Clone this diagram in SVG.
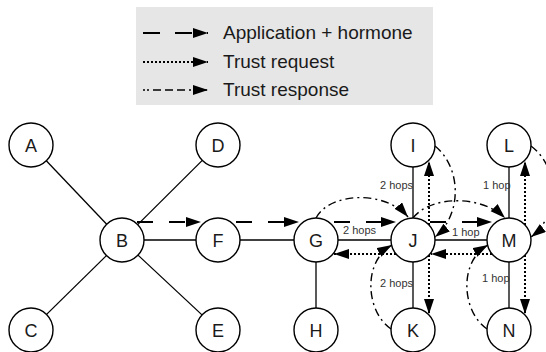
<svg xmlns="http://www.w3.org/2000/svg" width="546" height="352" viewBox="0 0 546 352">
<style>
.node circle{fill:#fff;stroke:#000;stroke-width:1.4}
.node text{font-family:"Liberation Sans",Arial,sans-serif;font-size:18px;fill:#1a1a1a;text-anchor:middle}
.edge{fill:none;stroke:#000;stroke-width:1.3}
.app{fill:none;stroke:#000;stroke-width:2;stroke-dasharray:16 16;marker-end:url(#ah)}
.req{fill:none;stroke:#000;stroke-width:2;stroke-dasharray:2 2;marker-end:url(#ah)}
.resp{fill:none;stroke:#000;stroke-width:1.4;stroke-dasharray:8 4 2 4;marker-end:url(#ah)}
.hop{font-family:"Liberation Sans",Arial,sans-serif;font-size:11px;fill:#333}
.leg{font-family:"Liberation Sans",Arial,sans-serif;font-size:19px;fill:#1a1a1a}
</style>
<defs>
<marker id="ah" markerUnits="userSpaceOnUse" markerWidth="16" markerHeight="11" refX="15" refY="5" orient="auto">
<path d="M0,0 L15,5 L0,10 z" fill="#000"/>
</marker>
</defs>
<g id="legend">
<rect x="136" y="7" width="297" height="98" fill="#e6e6e6"/>
<path class="app" d="M143,33 H208" style="stroke-dasharray:17 15"/>
<path class="req" d="M143,62 H208"/>
<path class="resp" d="M143,90 H208" style="stroke-dasharray:2 2 2 4 8 4 8 4 8 4"/>
<text class="leg" x="223" y="39">Application + hormone</text>
<text class="leg" x="223" y="68">Trust request</text>
<text class="leg" x="223" y="96">Trust response</text>
</g>
<g id="connectors">
<path class="edge" d="M46.3,160.8 L106.7,224.2"/>
<path class="edge" d="M202.3,160.4 L137.7,224.6"/>
<path class="edge" d="M46.6,314.4 L106.4,255.6"/>
<path class="edge" d="M202,314.9 L138,255.1"/>
<path class="edge" d="M144,240 H196"/>
<path class="edge" d="M240,240 H294"/>
<path class="edge" d="M338,240 H391"/>
<path class="edge" d="M435,240 H487"/>
<path class="edge" d="M316,262 V308"/>
<path class="edge" d="M413,167 V218"/>
<path class="edge" d="M413,262 V308"/>
<path class="edge" d="M509,167 V218"/>
<path class="edge" d="M509,262 V308"/>
<path class="app" d="M137,222 H201"/>
<path class="app" d="M236,222 H299"/>
<path class="app" d="M334,222 H396"/>
<path class="app" d="M430,222 H492"/>
<path class="req" d="M429,225 V161"/>
<path class="req" d="M429,255 V314"/>
<path class="req" d="M396,254 H334"/>
<path class="req" d="M525,225 V161"/>
<path class="req" d="M525,255 V314"/>
<path class="req" d="M492,254 H431"/>
<path class="resp" d="M316,218 C330,192 385,190 408,217"/>
<path class="resp" d="M413,218 C430,196 480,194 505,218"/>
<path class="resp" d="M435,146 C462,168 462,215 435,237"/>
<path class="resp" d="M531,146 C560,168 560,215 531,237"/>
<path class="resp" d="M391,329 C366,312 362,262 392,245"/>
<path class="resp" d="M487,329 C462,312 458,262 488,245"/>
<text class="hop" x="343" y="234">2 hops</text>
<text class="hop" x="452" y="236">1 hop</text>
<text class="hop" x="380" y="189">2 hops</text>
<text class="hop" x="483" y="189">1 hop</text>
<text class="hop" x="380" y="287">2 hops</text>
<text class="hop" x="482" y="282">1 hop</text>
</g>
<g id="node-A" class="node"><circle cx="31" cy="145" r="22"/><text x="31" y="151.5">A</text></g>
<g id="node-D" class="node"><circle cx="218" cy="145" r="22"/><text x="218" y="151.5">D</text></g>
<g id="node-B" class="node"><circle cx="122" cy="240" r="22"/><text x="122" y="246.5">B</text></g>
<g id="node-F" class="node"><circle cx="218" cy="240" r="22"/><text x="218" y="246.5">F</text></g>
<g id="node-C" class="node"><circle cx="31" cy="330" r="22"/><text x="31" y="336.5">C</text></g>
<g id="node-E" class="node"><circle cx="218" cy="330" r="22"/><text x="218" y="336.5">E</text></g>
<g id="node-G" class="node"><circle cx="316" cy="240" r="22"/><text x="316" y="246.5">G</text></g>
<g id="node-H" class="node"><circle cx="316" cy="330" r="22"/><text x="316" y="336.5">H</text></g>
<g id="node-I" class="node"><circle cx="413" cy="145" r="22"/><text x="413" y="151.5">I</text></g>
<g id="node-J" class="node"><circle cx="413" cy="240" r="22"/><text x="413" y="246.5">J</text></g>
<g id="node-K" class="node"><circle cx="413" cy="330" r="22"/><text x="413" y="336.5">K</text></g>
<g id="node-L" class="node"><circle cx="509" cy="145" r="22"/><text x="509" y="151.5">L</text></g>
<g id="node-M" class="node"><circle cx="509" cy="240" r="22"/><text x="509" y="246.5">M</text></g>
<g id="node-N" class="node"><circle cx="509" cy="330" r="22"/><text x="509" y="336.5">N</text></g>
</svg>
